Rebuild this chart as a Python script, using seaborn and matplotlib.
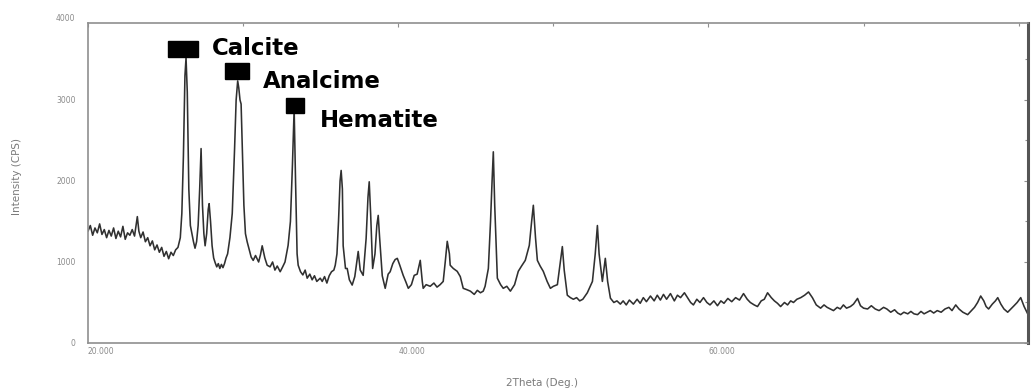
import matplotlib
matplotlib.use("Agg")
import matplotlib.pyplot as plt
import matplotlib.transforms as mtransforms
from matplotlib.patches import Rectangle
from matplotlib.ticker import MultipleLocator
import pandas as pd
import seaborn as sns

# ---------------- data ----------------
two_theta = [
    20.00, 20.15, 20.30, 20.45, 20.60, 20.75, 20.90, 21.05, 21.20, 21.35,
    21.50, 21.65, 21.80, 21.95, 22.10, 22.25, 22.40, 22.55, 22.70, 22.85,
    23.00, 23.10, 23.18, 23.28, 23.40, 23.55, 23.70, 23.85, 24.00, 24.15,
    24.30, 24.45, 24.60, 24.75, 24.90, 25.05, 25.20, 25.35, 25.50, 25.65,
    25.80, 25.95, 26.05, 26.15, 26.25, 26.32, 26.40, 26.50, 26.60, 26.70,
    26.80, 26.90, 27.00, 27.10, 27.20, 27.29, 27.38, 27.47, 27.55, 27.65,
    27.75, 27.81, 27.90, 28.00, 28.10, 28.20, 28.30, 28.40, 28.50, 28.60,
    28.70, 28.80, 28.90, 29.00, 29.15, 29.30, 29.45, 29.55, 29.65, 29.72,
    29.80, 29.87, 29.95, 30.05, 30.15, 30.26, 30.40, 30.52, 30.65, 30.80,
    31.00, 31.12, 31.23, 31.40, 31.55, 31.74, 31.90, 32.05, 32.20, 32.39,
    32.55, 32.70, 32.90, 33.05, 33.18, 33.29, 33.38, 33.48, 33.55, 33.70,
    33.85, 34.00, 34.13, 34.30, 34.45, 34.60, 34.75, 34.97, 35.10, 35.25,
    35.40, 35.55, 35.70, 35.85, 35.94, 36.05, 36.15, 36.25, 36.32, 36.40,
    36.45, 36.60, 36.71, 36.85, 37.03, 37.20, 37.42, 37.55, 37.74, 37.93,
    38.05, 38.13, 38.22, 38.35, 38.50, 38.62, 38.71, 38.80, 38.97, 39.16,
    39.35, 39.48, 39.65, 39.80, 39.94, 40.10, 40.32, 40.50, 40.65, 40.85,
    41.03, 41.22, 41.42, 41.55, 41.61, 41.80, 42.06, 42.30, 42.50, 42.70,
    42.90, 43.03, 43.16, 43.30, 43.35, 43.55, 43.80, 44.00, 44.19, 44.40,
    44.65, 44.90, 45.10, 45.30, 45.48, 45.60, 45.81, 45.95, 46.05, 46.13,
    46.22, 46.39, 46.60, 46.77, 47.00, 47.23, 47.50, 47.74, 47.95, 48.19,
    48.45, 48.60, 48.71, 48.85, 48.97, 49.15, 49.35, 49.60, 49.81, 50.00,
    50.26, 50.45, 50.58, 50.70, 50.90, 51.10, 51.29, 51.50, 51.70, 51.90,
    52.19, 52.52, 52.70, 52.84, 52.95, 53.16, 53.35, 53.50, 53.68, 53.90,
    54.10, 54.32, 54.50, 54.70, 54.90, 55.16, 55.40, 55.60, 55.80, 56.00,
    56.26, 56.50, 56.70, 56.90, 57.10, 57.30, 57.55, 57.80, 58.00, 58.20,
    58.45, 58.65, 58.85, 59.03, 59.25, 59.45, 59.68, 59.90, 60.10, 60.35,
    60.58, 60.80, 61.00, 61.25, 61.50, 61.75, 62.00, 62.26, 62.50, 62.70,
    62.95, 63.16, 63.40, 63.60, 63.81, 64.05, 64.25, 64.45, 64.65, 64.90,
    65.10, 65.30, 65.48, 65.70, 65.95, 66.20, 66.45, 66.70, 66.95, 67.23,
    67.45, 67.65, 67.85, 68.06, 68.30, 68.50, 68.70, 68.90, 69.15, 69.35,
    69.61, 69.80, 70.00, 70.26, 70.50, 70.75, 71.00, 71.29, 71.50, 71.75,
    72.00, 72.20, 72.39, 72.60, 72.85, 73.05, 73.25, 73.48, 73.70, 73.90,
    74.10, 74.30, 74.52, 74.75, 75.00, 75.25, 75.50, 75.70, 75.94, 76.15,
    76.40, 76.71, 76.95, 77.15, 77.35, 77.55, 77.75, 77.90, 78.06, 78.30,
    78.50, 78.65, 78.85, 79.05, 79.29, 79.50, 79.70, 79.90, 80.13, 80.35,
    80.58,
]
intensity = [
    1380, 1450, 1330, 1420, 1360, 1470, 1340, 1400, 1300, 1390,
    1320, 1420, 1290, 1380, 1310, 1440, 1280, 1360, 1330, 1400,
    1320, 1450, 1560, 1380, 1300, 1370, 1250, 1300, 1200, 1260,
    1150, 1210, 1120, 1180, 1070, 1130, 1040, 1120, 1080, 1150,
    1180, 1300, 1600, 2300, 3300, 3520, 3100, 1900, 1450, 1350,
    1250, 1170, 1250, 1450, 1900, 2400, 1700, 1350, 1200, 1350,
    1650, 1720, 1500, 1200, 1050, 990, 940, 980, 920, 970,
    930, 980, 1050, 1100, 1300, 1600, 2400, 3000, 3235, 3150,
    3000, 2950, 2400, 1700, 1350, 1250, 1150, 1060, 1020, 1080,
    1000, 1090, 1200, 1050, 960, 940, 1000, 900, 950, 880,
    940, 1000, 1205, 1500, 2200, 2890, 2000, 1100, 960, 880,
    840, 900, 800, 850, 780, 830, 760, 800, 760, 820,
    740, 830, 880, 900, 960, 1100, 1500, 2000, 2130, 1900,
    1200, 920, 920, 780, 715, 820, 1130, 900, 835, 1290,
    1800, 1990, 1600, 920, 1100, 1450, 1575, 1300, 830, 675,
    850, 880, 980, 1030, 1045, 960, 835, 750, 675, 720,
    835, 850, 1020, 760, 675, 720, 700, 740, 690, 720,
    760, 1000, 1255, 1100, 960, 920, 885, 820, 675, 660,
    640, 600, 650, 620, 640, 700, 920, 1500, 2000, 2360,
    1700, 800, 720, 675, 700, 640, 720, 885, 950, 1020,
    1205, 1500, 1700, 1300, 1020, 950, 885, 760, 675, 700,
    720, 1000, 1190, 900, 590, 560, 540, 560, 520, 540,
    620, 760, 1100, 1450, 1100, 760, 1045, 760, 553, 500,
    520, 480, 520, 470, 530, 480, 540, 490, 560, 510,
    580, 520, 590, 530, 600, 540, 610, 520, 590, 560,
    620, 560, 500, 470, 540, 500, 560, 500, 470, 520,
    460, 520, 490, 550, 510, 560, 530, 610, 540, 500,
    470, 450, 520, 540, 620, 560, 520, 490, 450, 500,
    470, 520, 500, 540, 560, 590, 630, 560, 470, 430,
    470, 440, 420, 400, 440, 420, 470, 430, 450, 480,
    550, 460, 430, 420, 460, 420, 400, 440, 420, 380,
    410, 370, 350, 380, 360, 390, 360, 350, 390, 360,
    380, 400, 370, 400, 380, 420, 440, 400, 470, 420,
    380, 350, 400, 440, 500, 580, 520, 450, 420, 480,
    520, 560, 480, 420, 380, 420, 460, 500, 560, 450,
    360,
]

x_ticks = [20, 40, 60]
x_tick_labels = ["20.000", "40.000", "60.000"]
y_ticks = [0, 1000, 2000, 3000]
y_tick_labels = ["0", "1000", "2000", "3000"]
phase_names = ["Calcite", "Analcime", "Hematite"]
phase_marker_x = [26.13, 29.61, 33.35]
phase_marker_top = [3730, 3458, 3026]

# ---------------- figure ----------------
sns.set_style("white")
plt.rcParams["font.family"] = ["DejaVu Sans"]

W, H = 1033, 390
fig = plt.figure(figsize=(W / 100, H / 100), dpi=100)
fig.patch.set_facecolor("white")
ax = fig.add_axes([88 / W, 1 - 343 / H, 940 / W, 320 / H])

df = pd.DataFrame({"two_theta": two_theta, "intensity": intensity})
sns.lineplot(data=df, x="two_theta", y="intensity", ax=ax,
             color="#303030", linewidth=1.15, estimator=None, sort=False)

ax.set_xlim(20, 80.6)
ax.set_ylim(0, 3950)

# spines
for side in ["left", "top", "bottom"]:
    ax.spines[side].set_color("#8f8f8f")
    ax.spines[side].set_linewidth(1.2)
ax.spines["right"].set_color("#555555")
ax.spines["right"].set_linewidth(2.2)

# ticks
ax.set_xticks(x_ticks)
ax.set_xticklabels(x_tick_labels, ha="left")
ax.xaxis.set_minor_locator(MultipleLocator(10))
ax.set_yticks(y_ticks)
ax.set_yticklabels(y_tick_labels)
ax.yaxis.set_minor_locator(MultipleLocator(500))
ax.tick_params(axis="both", which="both", direction="in", colors="#8f8f8f",
               top=True, right=True, labelcolor="#8a8a8a", labelsize=5.5)
ax.tick_params(axis="both", which="major", length=3, width=0.8)
ax.tick_params(axis="both", which="minor", length=2.5, width=0.8)
ax.tick_params(axis="y", pad=9)
ax.tick_params(axis="x", pad=3)

# label of the 4000 level (just above the frame)
trans = mtransforms.blended_transform_factory(ax.transAxes, ax.transData)
ax.text(-13 / 940, 4000, "4000", transform=trans, ha="right", va="center",
        fontsize=5.5, color="#8a8a8a", clip_on=False)

ax.set_xlabel("2Theta (Deg.)", fontsize=7.5, color="#7a7a7a")
ax.set_ylabel("Intensity (CPS)", fontsize=7.5, color="#7a7a7a")
ax.xaxis.set_label_coords(0.483, -0.11)
ax.yaxis.set_label_coords(-0.070, 0.52)

# phase markers
marker_w = [1.94, 1.55, 1.17]
marker_h = [200, 200, 186]
text_dx = [1.87, 1.68, 1.62]
text_y = [3557, 3149, 2670]
for name, xc, top, w, h, dx, ty in zip(phase_names, phase_marker_x, phase_marker_top,
                                        marker_w, marker_h, text_dx, text_y):
    ax.add_patch(Rectangle((xc - w / 2, top - h), w, h, facecolor="black",
                           edgecolor="black", zorder=5, clip_on=False))
    ax.text(xc + dx, ty, name, fontsize=16.5, fontweight="bold", color="black",
            ha="left", va="baseline", zorder=6)

fig.savefig("out.png", dpi=100, facecolor="white")
